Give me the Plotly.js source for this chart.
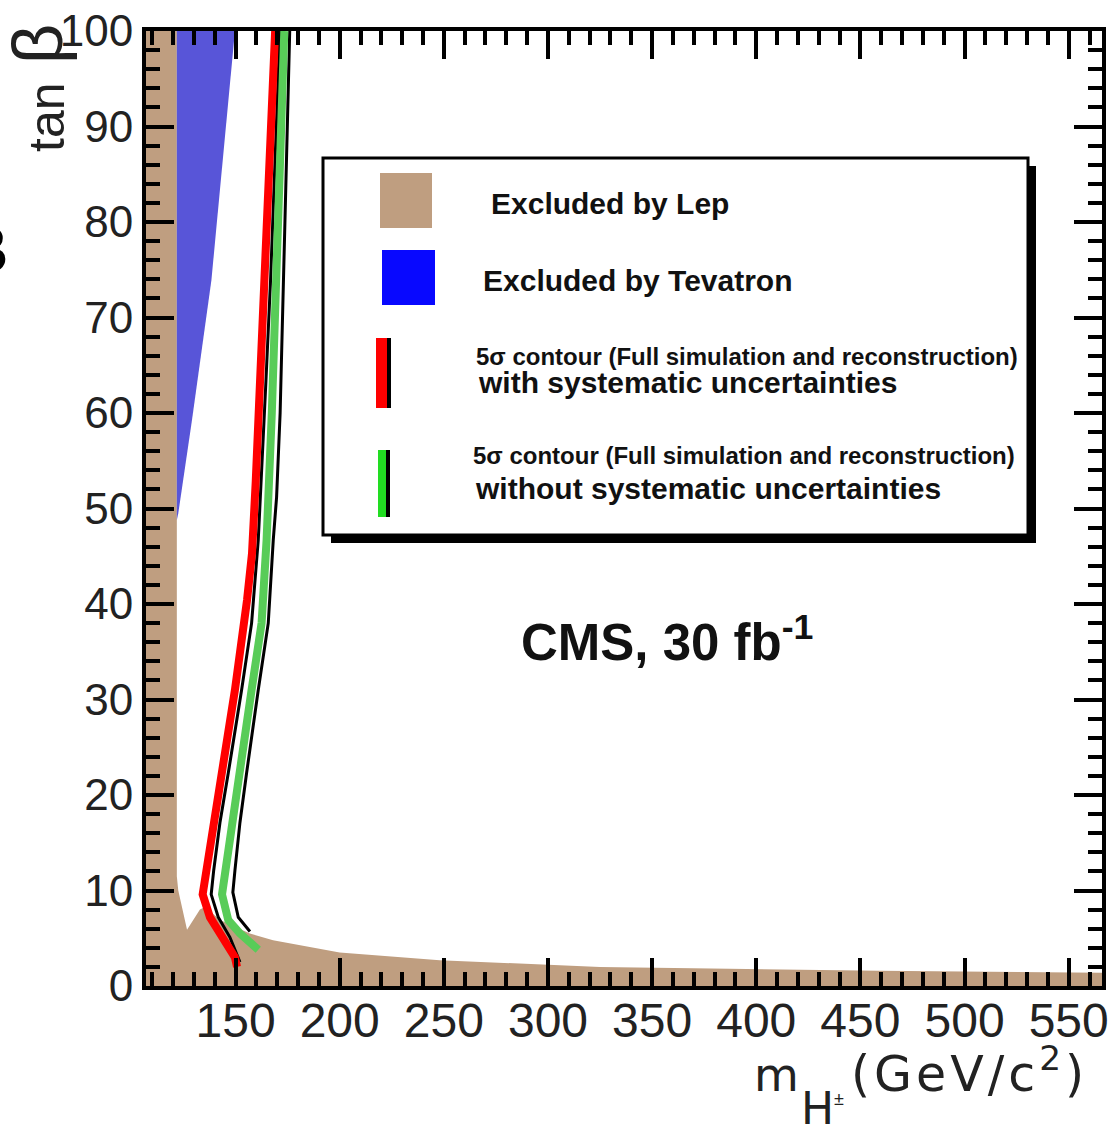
<!DOCTYPE html>
<html><head><meta charset="utf-8">
<script src="https://cdn.plot.ly/plotly-3.0.1.min.js"></script>
<style>html,body{margin:0;padding:0;background:#fff}#chart{width:1114px;height:1124px}</style>
</head><body><div id="chart"></div>
<script>
// ---- data (m_H± in GeV/c^2, tanβ) ----
const lepM = [107, 107, 121.8, 121.8, 122.5, 126.7, 132.9, 135.5, 142.5, 156.9, 168, 200, 248, 325, 387, 459, 566, 566];
const lepT = [0, 100, 100, 11.5, 10.0, 5.9, 8.0, 8.3, 6.9, 5.5, 4.8, 3.5, 2.7, 2.0, 1.8, 1.6, 1.4, 0];

const tevM = [121.8, 121.8, 149.7, 138.4, 129.1, 122.5];
const tevT = [48.8, 100, 100, 73.9, 59.3, 49.5];

const redM = [169.0, 164.3, 162.2, 159.7, 157.9, 155.5, 149.7, 143.3, 139.2, 135.2, 134.2, 137.7, 144.0, 149.7, 150.7];
const redT = [100, 73.9, 63.4, 52.9, 45.3, 40.4, 31.0, 22.3, 17.1, 12.1, 9.6, 7.2, 5.1, 3.0, 2.0];

const redBlkM = [171.3, 166.8, 164.6, 162.4, 160.9, 157.7, 152.9, 146.5, 142.5, 139.5, 138.3, 141.7, 147.3, 152.1];
const redBlkT = [100, 73.9, 63.4, 52.9, 46.7, 38.0, 31.0, 22.3, 17.1, 12.1, 9.6, 7.2, 5.1, 2.5];

const greenM = [173.4, 169.9, 167.4, 164.9, 162.5, 157.7, 152.1, 148.9, 144.9, 143.5, 146.5, 152.1, 160.9];
const greenT = [100, 73.9, 60.0, 46.7, 38.0, 31.0, 22.3, 17.1, 12.1, 9.6, 6.9, 5.5, 3.8];

const greenBlkM = [176.0, 173.1, 171.4, 169.7, 168.1, 165.7, 160.9, 155.3, 152.1, 149.7, 148.7, 151.3, 156.9];
const greenBlkT = [100, 73.9, 60.0, 51.2, 46.7, 38.0, 31.0, 22.3, 17.1, 12.1, 9.8, 7.2, 5.7];

const xTickVals = [150, 200, 250, 300, 350, 400, 450, 500, 550];
const xTickText = ["150", "200", "250", "300", "350", "400", "450", "500", "550"];
const yTickVals = [0, 10, 20, 30, 40, 50, 60, 70, 80, 90, 100];
const yTickText = ["0", "10", "20", "30", "40", "50", "60", "70", "80", "90", "100"];

const legendLabels = [
  "Excluded by Lep",
  "Excluded by Tevatron",
  "5\u03c3 contour (Full simulation and reconstruction)",
  "with systematic uncertainties",
  "5\u03c3 contour (Full simulation and reconstruction)",
  "without systematic uncertainties"
];
const cmsLabel = "CMS, 30 fb<sup>-1</sup>";
const yTitleParts = ["tan", "\u03b2"];
const xTitleParts = ["m", "H", "\u00b1", "(GeV/c<sup>2</sup>)"];

// ---- styling ----
const BROWN = "#bf9e80";
const BLUE_FILL = "#5855d8";
const RED = "#ff0000";
const GREEN = "#58cc58";
const FONT = "Liberation Sans, Arial, Helvetica, sans-serif";
const WIDE = "DejaVu Sans, Liberation Sans, Arial, sans-serif";

// pixel -> paper helpers (plot area: x 146..1102, y 31..986)
const L = 146, PW = 956, B = 986, PH = 955;
const px = x => (x - L) / PW;
const py = y => (B - y) / PH;

const traces = [
  {x: lepM, y: lepT, mode: "lines", fill: "toself", fillcolor: BROWN, line: {width: 0, color: BROWN}, hoverinfo: "skip"},
  {x: tevM, y: tevT, mode: "lines", fill: "toself", fillcolor: BLUE_FILL, line: {width: 0, color: BLUE_FILL}, hoverinfo: "skip"},
  {x: redBlkM, y: redBlkT, mode: "lines", line: {color: "#000", width: 3}, hoverinfo: "skip"},
  {x: greenBlkM, y: greenBlkT, mode: "lines", line: {color: "#000", width: 3}, hoverinfo: "skip"},
  {x: redM, y: redT, mode: "lines", line: {color: RED, width: 8}, hoverinfo: "skip"},
  {x: greenM, y: greenT, mode: "lines", line: {color: GREEN, width: 8}, hoverinfo: "skip"}
];

function rectPx(x0, y0, x1, y1, fill, line) {
  return {type: "rect", xref: "paper", yref: "paper", layer: "above",
    x0: px(x0), x1: px(x1), y0: py(y1), y1: py(y0),
    fillcolor: fill, line: line || {width: 0}};
}

const shapes = [
  rectPx(331, 166, 1036, 543, "#000"),
  rectPx(323, 158, 1028, 535, "#fff", {color: "#000", width: 3}),
  rectPx(380, 173, 432, 228, BROWN),
  rectPx(382, 250, 435, 305, "#0808ff"),
  rectPx(376, 338, 387, 408, RED),
  rectPx(387, 338, 391, 408, "#000"),
  rectPx(378, 450, 386, 517, "#22dd22"),
  rectPx(386, 450, 390, 517, "#000")
];

function ann(text, x, y, size, opts) {
  return Object.assign({text: text, xref: "paper", yref: "paper", x: px(x), y: py(y),
    xanchor: "left", yanchor: "middle", showarrow: false,
    font: {family: FONT, size: size, color: "#111"}}, opts || {});
}
function tfont(size, fam) { return {family: fam || FONT, size: size, color: "#222"}; }

const annotations = [
  ann("<b>" + legendLabels[0] + "</b>", 489, 204, 30),
  ann("<b>" + legendLabels[1] + "</b>", 481, 280, 30),
  ann("<b>" + legendLabels[2] + "</b>", 474, 356, 24),
  ann("<b>" + legendLabels[3] + "</b>", 476, 382, 30),
  ann("<b>" + legendLabels[4] + "</b>", 471, 455, 24),
  ann("<b>" + legendLabels[5] + "</b>", 473, 488, 30),
  ann("<b>" + cmsLabel + "</b>", 519, 639, 51),
  // y-axis title
  ann(yTitleParts[0], 47, 117, 50, {xanchor: "center", textangle: -90, font: tfont(50)}),
  ann(yTitleParts[1], 38, 44, 70, {xanchor: "center", textangle: -90, font: tfont(70)}),
  // x-axis title
  ann(xTitleParts[0], 776, 1104, 46, {xanchor: "center", yanchor: "bottom", font: tfont(46, WIDE)}),
  ann(xTitleParts[1], 817, 1136, 44, {xanchor: "center", yanchor: "bottom", font: tfont(44, WIDE)}),
  ann(xTitleParts[2], 839, 1099, 18, {xanchor: "center", font: tfont(18)}),
  ann("<span style='letter-spacing:4px'>" + xTitleParts[3] + "</span>", 849, 1105, 49,
      {yanchor: "bottom", font: tfont(49, WIDE)}),
  // partial glyph at the left edge
  ann("<b>B</b>", 10, 250, 64, {xanchor: "right", font: {family: FONT, size: 64, color: "#000"}})
];

const axisCommon = {
  ticks: "inside", ticklen: 28, tickwidth: 4, tickcolor: "#000",
  showline: true, linewidth: 4, linecolor: "#000", mirror: "allticks",
  showgrid: false, zeroline: false, tickmode: "array", fixedrange: true
};

const layout = {
  width: 1114, height: 1124,
  margin: {l: L, r: 1114 - L - PW, t: B - PH, b: 1124 - B},
  paper_bgcolor: "#fff", plot_bgcolor: "#fff",
  showlegend: false,
  xaxis: Object.assign({}, axisCommon, {
    range: [107, 566], tickvals: xTickVals, ticktext: xTickText,
    tickfont: {family: FONT, size: 48, color: "#222"},
    ticklabelstandoff: -11,
    minor: {tickmode: "linear", tick0: 0, dtick: 10, ticks: "inside", ticklen: 14, tickwidth: 4, tickcolor: "#000", showgrid: false}
  }),
  yaxis: Object.assign({}, axisCommon, {
    range: [0, 100], tickvals: yTickVals, ticktext: yTickText,
    tickfont: {family: FONT, size: 44, color: "#222"},
    minor: {tickmode: "linear", tick0: 0, dtick: 2, ticks: "inside", ticklen: 14, tickwidth: 4, tickcolor: "#000", showgrid: false}
  }),
  shapes: shapes,
  annotations: annotations
};

Plotly.newPlot("chart", traces, layout, {staticPlot: true, displayModeBar: false});
</script></body></html>
